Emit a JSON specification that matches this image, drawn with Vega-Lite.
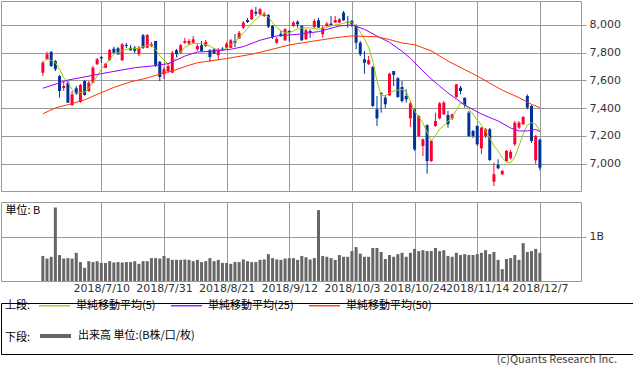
{
"$schema": "https://vega.github.io/schema/vega-lite/v6.json",
"padding": 0,
"background": "white",
"config": {
  "view": {"stroke": "#999999", "strokeWidth": 1},
  "axis": {"gridColor": "#999999", "gridWidth": 1, "gridOpacity": 1, "tickColor": "#999999", "domain": false, "labelFont": "DejaVu Sans", "labelFontSize": 11, "labelColor": "#333333", "title": null},
  "legend": {"padding": 0}
},
"datasets": {
"candles": [
{"i":0,"o":7656,"h":7740,"l":7632,"c":7728,"v":0.57},
{"i":1,"o":7753,"h":7807,"l":7748,"c":7789,"v":0.51},
{"i":2,"o":7805,"h":7813,"l":7697,"c":7704,"v":0.55},
{"i":3,"o":7740,"h":7748,"l":7668,"c":7681,"v":1.67},
{"i":4,"o":7632,"h":7640,"l":7476,"c":7524,"v":0.59},
{"i":5,"o":7546,"h":7596,"l":7524,"c":7560,"v":0.51},
{"i":6,"o":7584,"h":7596,"l":7438,"c":7440,"v":0.52},
{"i":7,"o":7423,"h":7524,"l":7416,"c":7500,"v":0.51},
{"i":8,"o":7544,"h":7560,"l":7495,"c":7505,"v":0.64},
{"i":9,"o":7445,"h":7575,"l":7438,"c":7567,"v":0.43},
{"i":10,"o":7596,"h":7603,"l":7490,"c":7495,"v":0.30},
{"i":11,"o":7524,"h":7596,"l":7517,"c":7584,"v":0.45},
{"i":12,"o":7584,"h":7704,"l":7582,"c":7692,"v":0.43},
{"i":13,"o":7717,"h":7762,"l":7712,"c":7753,"v":0.45},
{"i":14,"o":7769,"h":7776,"l":7726,"c":7760,"v":0.41},
{"i":15,"o":7692,"h":7726,"l":7688,"c":7721,"v":0.41},
{"i":16,"o":7748,"h":7827,"l":7740,"c":7820,"v":0.45},
{"i":17,"o":7829,"h":7844,"l":7798,"c":7800,"v":0.42},
{"i":18,"o":7832,"h":7840,"l":7784,"c":7789,"v":0.43},
{"i":19,"o":7746,"h":7870,"l":7740,"c":7861,"v":0.42},
{"i":20,"o":7856,"h":7870,"l":7834,"c":7849,"v":0.43},
{"i":21,"o":7836,"h":7856,"l":7813,"c":7818,"v":0.43},
{"i":22,"o":7836,"h":7849,"l":7798,"c":7813,"v":0.45},
{"i":23,"o":7789,"h":7849,"l":7776,"c":7836,"v":0.39},
{"i":24,"o":7926,"h":7935,"l":7827,"c":7836,"v":0.45},
{"i":25,"o":7836,"h":7935,"l":7832,"c":7928,"v":0.45},
{"i":26,"o":7849,"h":7877,"l":7840,"c":7861,"v":0.52},
{"i":27,"o":7885,"h":7885,"l":7697,"c":7712,"v":0.52},
{"i":28,"o":7735,"h":7740,"l":7596,"c":7625,"v":0.51},
{"i":29,"o":7645,"h":7697,"l":7611,"c":7681,"v":0.57},
{"i":30,"o":7668,"h":7726,"l":7655,"c":7704,"v":0.52},
{"i":31,"o":7656,"h":7813,"l":7652,"c":7800,"v":0.48},
{"i":32,"o":7818,"h":7827,"l":7769,"c":7789,"v":0.48},
{"i":33,"o":7800,"h":7863,"l":7790,"c":7854,"v":0.48},
{"i":34,"o":7872,"h":7907,"l":7863,"c":7885,"v":0.49},
{"i":35,"o":7865,"h":7899,"l":7856,"c":7885,"v":0.48},
{"i":36,"o":7872,"h":7921,"l":7863,"c":7897,"v":0.45},
{"i":37,"o":7825,"h":7863,"l":7813,"c":7849,"v":0.48},
{"i":38,"o":7854,"h":7885,"l":7805,"c":7813,"v":0.43},
{"i":39,"o":7849,"h":7892,"l":7840,"c":7877,"v":0.45},
{"i":40,"o":7818,"h":7827,"l":7733,"c":7769,"v":0.52},
{"i":41,"o":7825,"h":7834,"l":7789,"c":7793,"v":0.45},
{"i":42,"o":7782,"h":7834,"l":7748,"c":7825,"v":0.48},
{"i":43,"o":7829,"h":7840,"l":7813,"c":7818,"v":0.41},
{"i":44,"o":7836,"h":7877,"l":7834,"c":7865,"v":0.41},
{"i":45,"o":7836,"h":7899,"l":7834,"c":7890,"v":0.39},
{"i":46,"o":7885,"h":7935,"l":7840,"c":7872,"v":0.43},
{"i":47,"o":7901,"h":7957,"l":7899,"c":7944,"v":0.43},
{"i":48,"o":7981,"h":8029,"l":7971,"c":8017,"v":0.49},
{"i":49,"o":8036,"h":8050,"l":8015,"c":8022,"v":0.45},
{"i":50,"o":8041,"h":8115,"l":8036,"c":8108,"v":0.43},
{"i":51,"o":8094,"h":8130,"l":8065,"c":8082,"v":0.43},
{"i":52,"o":8077,"h":8123,"l":8072,"c":8113,"v":0.48},
{"i":53,"o":8065,"h":8094,"l":8058,"c":8082,"v":0.49},
{"i":54,"o":8072,"h":8079,"l":7978,"c":7988,"v":0.61},
{"i":55,"o":7993,"h":8000,"l":7899,"c":7913,"v":0.52},
{"i":56,"o":7872,"h":7913,"l":7863,"c":7901,"v":0.49},
{"i":57,"o":7937,"h":7957,"l":7913,"c":7921,"v":0.48},
{"i":58,"o":7890,"h":7978,"l":7885,"c":7969,"v":0.51},
{"i":59,"o":7957,"h":7962,"l":7880,"c":7944,"v":0.52},
{"i":60,"o":7993,"h":8029,"l":7986,"c":8017,"v":0.52},
{"i":61,"o":8024,"h":8034,"l":7981,"c":8005,"v":0.48},
{"i":62,"o":7993,"h":8000,"l":7885,"c":7890,"v":0.57},
{"i":63,"o":7897,"h":7971,"l":7892,"c":7962,"v":0.54},
{"i":64,"o":7957,"h":7969,"l":7908,"c":7944,"v":0.49},
{"i":65,"o":7986,"h":8043,"l":7978,"c":8029,"v":0.52},
{"i":66,"o":8034,"h":8053,"l":7978,"c":7981,"v":1.61},
{"i":67,"o":7933,"h":7993,"l":7908,"c":7981,"v":0.57},
{"i":68,"o":7993,"h":8022,"l":7986,"c":8010,"v":0.55},
{"i":69,"o":8010,"h":8065,"l":7993,"c":8000,"v":0.52},
{"i":70,"o":8017,"h":8065,"l":8015,"c":8036,"v":0.48},
{"i":71,"o":8017,"h":8050,"l":8015,"c":8041,"v":0.59},
{"i":72,"o":8089,"h":8101,"l":8029,"c":8034,"v":0.55},
{"i":73,"o":8024,"h":8065,"l":7981,"c":8017,"v":0.55},
{"i":74,"o":8029,"h":8036,"l":7986,"c":8005,"v":0.68},
{"i":75,"o":7993,"h":8005,"l":7825,"c":7872,"v":0.77},
{"i":76,"o":7872,"h":7885,"l":7776,"c":7789,"v":0.62},
{"i":77,"o":7753,"h":7813,"l":7649,"c":7728,"v":0.55},
{"i":78,"o":7717,"h":7776,"l":7712,"c":7746,"v":0.55},
{"i":79,"o":7697,"h":7704,"l":7409,"c":7416,"v":0.75},
{"i":80,"o":7392,"h":7488,"l":7272,"c":7327,"v":0.75},
{"i":81,"o":7512,"h":7512,"l":7368,"c":7500,"v":0.66},
{"i":82,"o":7476,"h":7495,"l":7400,"c":7428,"v":0.50},
{"i":83,"o":7493,"h":7656,"l":7488,"c":7649,"v":0.59},
{"i":84,"o":7668,"h":7668,"l":7560,"c":7640,"v":0.55},
{"i":85,"o":7616,"h":7625,"l":7474,"c":7481,"v":0.61},
{"i":86,"o":7553,"h":7596,"l":7440,"c":7452,"v":0.64},
{"i":87,"o":7488,"h":7536,"l":7440,"c":7464,"v":0.55},
{"i":88,"o":7327,"h":7452,"l":7265,"c":7435,"v":0.64},
{"i":89,"o":7392,"h":7400,"l":7092,"c":7104,"v":0.73},
{"i":90,"o":7200,"h":7351,"l":7193,"c":7344,"v":0.68},
{"i":91,"o":7128,"h":7180,"l":7055,"c":7176,"v":0.70},
{"i":92,"o":7277,"h":7284,"l":6928,"c":7019,"v":0.68},
{"i":93,"o":7019,"h":7171,"l":7012,"c":7164,"v":0.68},
{"i":94,"o":7272,"h":7368,"l":7265,"c":7308,"v":0.75},
{"i":95,"o":7327,"h":7445,"l":7320,"c":7435,"v":0.68},
{"i":96,"o":7356,"h":7452,"l":7351,"c":7440,"v":0.70},
{"i":97,"o":7351,"h":7380,"l":7260,"c":7284,"v":0.57},
{"i":98,"o":7327,"h":7360,"l":7315,"c":7356,"v":0.55},
{"i":99,"o":7481,"h":7575,"l":7474,"c":7572,"v":0.64},
{"i":100,"o":7548,"h":7560,"l":7500,"c":7524,"v":0.59},
{"i":101,"o":7476,"h":7476,"l":7404,"c":7423,"v":0.61},
{"i":102,"o":7368,"h":7380,"l":7193,"c":7200,"v":0.59},
{"i":103,"o":7236,"h":7243,"l":7185,"c":7200,"v":0.59},
{"i":104,"o":7272,"h":7279,"l":7128,"c":7140,"v":0.61},
{"i":105,"o":7111,"h":7265,"l":7068,"c":7260,"v":0.64},
{"i":106,"o":7200,"h":7257,"l":7185,"c":7248,"v":0.70},
{"i":107,"o":7248,"h":7257,"l":7019,"c":7027,"v":0.61},
{"i":108,"o":6870,"h":7007,"l":6839,"c":6924,"v":0.66},
{"i":109,"o":6991,"h":7032,"l":6960,"c":6967,"v":0.48},
{"i":110,"o":6924,"h":6955,"l":6917,"c":6947,"v":0.27},
{"i":111,"o":7019,"h":7099,"l":7012,"c":7092,"v":0.50},
{"i":112,"o":7040,"h":7099,"l":7030,"c":7085,"v":0.52},
{"i":113,"o":7140,"h":7308,"l":7128,"c":7296,"v":0.59},
{"i":114,"o":7260,"h":7308,"l":7250,"c":7296,"v":0.48},
{"i":115,"o":7284,"h":7344,"l":7279,"c":7337,"v":0.86},
{"i":116,"o":7488,"h":7500,"l":7392,"c":7404,"v":0.66},
{"i":117,"o":7416,"h":7423,"l":7150,"c":7164,"v":0.68},
{"i":118,"o":7024,"h":7207,"l":6996,"c":7200,"v":0.73},
{"i":119,"o":7173,"h":7180,"l":6952,"c":6971,"v":0.64}
],
"ma": [
{"i":0,"s":"単純移動平均(5)","p":7728},{"i":1,"s":"単純移動平均(5)","p":7757},{"i":2,"s":"単純移動平均(5)","p":7745},{"i":3,"s":"単純移動平均(5)","p":7728},{"i":4,"s":"単純移動平均(5)","p":7681},{"i":5,"s":"単純移動平均(5)","p":7620},{"i":6,"s":"単純移動平均(5)","p":7584},{"i":7,"s":"単純移動平均(5)","p":7536},{"i":8,"s":"単純移動平均(5)","p":7505},{"i":9,"s":"単純移動平均(5)","p":7512},
{"i":10,"s":"単純移動平均(5)","p":7517},{"i":11,"s":"単純移動平均(5)","p":7544},{"i":12,"s":"単純移動平均(5)","p":7584},{"i":13,"s":"単純移動平均(5)","p":7632},{"i":14,"s":"単純移動平均(5)","p":7681},{"i":15,"s":"単純移動平均(5)","p":7717},{"i":16,"s":"単純移動平均(5)","p":7753},{"i":17,"s":"単純移動平均(5)","p":7789},{"i":18,"s":"単純移動平均(5)","p":7800},{"i":19,"s":"単純移動平均(5)","p":7813},
{"i":20,"s":"単純移動平均(5)","p":7825},{"i":21,"s":"単純移動平均(5)","p":7829},{"i":22,"s":"単純移動平均(5)","p":7829},{"i":23,"s":"単純移動平均(5)","p":7832},{"i":24,"s":"単純移動平均(5)","p":7844},{"i":25,"s":"単純移動平均(5)","p":7854},{"i":26,"s":"単純移動平均(5)","p":7854},{"i":27,"s":"単純移動平均(5)","p":7825},{"i":28,"s":"単純移動平均(5)","p":7776},{"i":29,"s":"単純移動平均(5)","p":7748},
{"i":30,"s":"単純移動平均(5)","p":7719},{"i":31,"s":"単純移動平均(5)","p":7733},{"i":32,"s":"単純移動平均(5)","p":7764},{"i":33,"s":"単純移動平均(5)","p":7805},{"i":34,"s":"単純移動平均(5)","p":7838},{"i":35,"s":"単純移動平均(5)","p":7856},{"i":36,"s":"単純移動平均(5)","p":7865},{"i":37,"s":"単純移動平均(5)","p":7867},{"i":38,"s":"単純移動平均(5)","p":7865},{"i":39,"s":"単純移動平均(5)","p":7859},
{"i":40,"s":"単純移動平均(5)","p":7849},{"i":41,"s":"単純移動平均(5)","p":7829},{"i":42,"s":"単純移動平均(5)","p":7823},{"i":43,"s":"単純移動平均(5)","p":7820},{"i":44,"s":"単純移動平均(5)","p":7831},{"i":45,"s":"単純移動平均(5)","p":7856},{"i":46,"s":"単純移動平均(5)","p":7881},{"i":47,"s":"単純移動平均(5)","p":7906},{"i":48,"s":"単純移動平均(5)","p":7942},{"i":49,"s":"単純移動平均(5)","p":7975},
{"i":50,"s":"単純移動平均(5)","p":8011},{"i":51,"s":"単純移動平均(5)","p":8040},{"i":52,"s":"単純移動平均(5)","p":8068},{"i":53,"s":"単純移動平均(5)","p":8079},{"i":54,"s":"単純移動平均(5)","p":8058},{"i":55,"s":"単純移動平均(5)","p":8018},{"i":56,"s":"単純移動平均(5)","p":7982},{"i":57,"s":"単純移動平均(5)","p":7960},{"i":58,"s":"単純移動平均(5)","p":7944},{"i":59,"s":"単純移動平均(5)","p":7944},
{"i":60,"s":"単純移動平均(5)","p":7957},{"i":61,"s":"単純移動平均(5)","p":7971},{"i":62,"s":"単純移動平均(5)","p":7978},{"i":63,"s":"単純移動平均(5)","p":7978},{"i":64,"s":"単純移動平均(5)","p":7980},{"i":65,"s":"単純移動平均(5)","p":7975},{"i":66,"s":"単純移動平均(5)","p":7969},{"i":67,"s":"単純移動平均(5)","p":7978},{"i":68,"s":"単純移動平均(5)","p":7985},{"i":69,"s":"単純移動平均(5)","p":7993},
{"i":70,"s":"単純移動平均(5)","p":8000},{"i":71,"s":"単純移動平均(5)","p":8005},{"i":72,"s":"単純移動平均(5)","p":8012},{"i":73,"s":"単純移動平均(5)","p":8022},{"i":74,"s":"単純移動平均(5)","p":8018},{"i":75,"s":"単純移動平均(5)","p":7993},{"i":76,"s":"単純移動平均(5)","p":7949},{"i":77,"s":"単純移動平均(5)","p":7899},{"i":78,"s":"単純移動平均(5)","p":7841},{"i":79,"s":"単純移動平均(5)","p":7740},
{"i":80,"s":"単純移動平均(5)","p":7596},{"i":81,"s":"単純移動平均(5)","p":7495},{"i":82,"s":"単純移動平均(5)","p":7488},{"i":83,"s":"単純移動平均(5)","p":7512},{"i":84,"s":"単純移動平均(5)","p":7524},{"i":85,"s":"単純移動平均(5)","p":7531},{"i":86,"s":"単純移動平均(5)","p":7535},{"i":87,"s":"単純移動平均(5)","p":7520},{"i":88,"s":"単純移動平均(5)","p":7452},{"i":89,"s":"単純移動平均(5)","p":7380},
{"i":90,"s":"単純移動平均(5)","p":7337},{"i":91,"s":"単純移動平均(5)","p":7293},{"i":92,"s":"単純移動平均(5)","p":7228},{"i":93,"s":"単純移動平均(5)","p":7164},{"i":94,"s":"単純移動平均(5)","p":7200},{"i":95,"s":"単純移動平均(5)","p":7250},{"i":96,"s":"単純移動平均(5)","p":7272},{"i":97,"s":"単純移動平均(5)","p":7308},{"i":98,"s":"単純移動平均(5)","p":7332},{"i":99,"s":"単純移動平均(5)","p":7387},
{"i":100,"s":"単純移動平均(5)","p":7438},{"i":101,"s":"単純移動平均(5)","p":7427},{"i":102,"s":"単純移動平均(5)","p":7394},{"i":103,"s":"単純移動平均(5)","p":7358},{"i":104,"s":"単純移動平均(5)","p":7315},{"i":105,"s":"単純移動平均(5)","p":7279},{"i":106,"s":"単純移動平均(5)","p":7236},{"i":107,"s":"単純移動平均(5)","p":7185},{"i":108,"s":"単純移動平均(5)","p":7128},{"i":109,"s":"単純移動平均(5)","p":7092},
{"i":110,"s":"単純移動平均(5)","p":7041},{"i":111,"s":"単純移動平均(5)","p":7012},{"i":112,"s":"単純移動平均(5)","p":7007},{"i":113,"s":"単純移動平均(5)","p":7048},{"i":114,"s":"単純移動平均(5)","p":7128},{"i":115,"s":"単純移動平均(5)","p":7214},{"i":116,"s":"単純移動平均(5)","p":7279},{"i":117,"s":"単純移動平均(5)","p":7296},{"i":118,"s":"単純移動平均(5)","p":7284},{"i":119,"s":"単純移動平均(5)","p":7236},
{"i":0,"s":"単純移動平均(25)","p":7544},{"i":6,"s":"単純移動平均(25)","p":7603},{"i":14,"s":"単純移動平均(25)","p":7649},{"i":22,"s":"単純移動平均(25)","p":7692},{"i":26,"s":"単純移動平均(25)","p":7704},{"i":30,"s":"単純移動平均(25)","p":7721},{"i":34,"s":"単純移動平均(25)","p":7776},{"i":37,"s":"単純移動平均(25)","p":7805},{"i":40,"s":"単純移動平均(25)","p":7810},{"i":45,"s":"単純移動平均(25)","p":7825},{"i":48,"s":"単純移動平均(25)","p":7844},{"i":52,"s":"単純移動平均(25)","p":7890},{"i":56,"s":"単純移動平均(25)","p":7921},{"i":61,"s":"単純移動平均(25)","p":7933},{"i":66,"s":"単純移動平均(25)","p":7952},{"i":71,"s":"単純移動平均(25)","p":7993},{"i":74,"s":"単純移動平均(25)","p":8000},{"i":77,"s":"単純移動平均(25)","p":7969},{"i":80,"s":"単純移動平均(25)","p":7920},{"i":83,"s":"単純移動平均(25)","p":7875},{"i":86,"s":"単純移動平均(25)","p":7810},{"i":88,"s":"単純移動平均(25)","p":7760},{"i":91,"s":"単純移動平均(25)","p":7668},{"i":93,"s":"単純移動平均(25)","p":7611},{"i":97,"s":"単純移動平均(25)","p":7510},{"i":101,"s":"単純移動平均(25)","p":7423},{"i":105,"s":"単純移動平均(25)","p":7358},{"i":109,"s":"単純移動平均(25)","p":7308},{"i":112,"s":"単純移動平均(25)","p":7257},{"i":114,"s":"単純移動平均(25)","p":7236},{"i":116,"s":"単純移動平均(25)","p":7236},{"i":118,"s":"単純移動平均(25)","p":7247},{"i":119,"s":"単純移動平均(25)","p":7231},
{"i":0,"s":"単純移動平均(50)","p":7360},{"i":3,"s":"単純移動平均(50)","p":7402},{"i":6,"s":"単純移動平均(50)","p":7425},{"i":10,"s":"単純移動平均(50)","p":7460},{"i":13,"s":"単純移動平均(50)","p":7500},{"i":17,"s":"単純移動平均(50)","p":7550},{"i":21,"s":"単純移動平均(50)","p":7590},{"i":25,"s":"単純移動平均(50)","p":7618},{"i":29,"s":"単純移動平均(50)","p":7656},{"i":31,"s":"単純移動平均(50)","p":7668},{"i":34,"s":"単純移動平均(50)","p":7700},{"i":37,"s":"単純移動平均(50)","p":7728},{"i":44,"s":"単純移動平均(50)","p":7758},{"i":50,"s":"単純移動平均(50)","p":7789},{"i":54,"s":"単純移動平均(50)","p":7818},{"i":59,"s":"単純移動平均(50)","p":7856},{"i":64,"s":"単純移動平均(50)","p":7880},{"i":70,"s":"単純移動平均(50)","p":7908},{"i":74,"s":"単純移動平均(50)","p":7921},{"i":80,"s":"単純移動平均(50)","p":7915},{"i":83,"s":"単純移動平均(50)","p":7895},{"i":86,"s":"単純移動平均(50)","p":7870},{"i":89,"s":"単純移動平均(50)","p":7858},{"i":93,"s":"単純移動平均(50)","p":7813},{"i":97,"s":"単純移動平均(50)","p":7740},{"i":104,"s":"単純移動平均(50)","p":7632},{"i":110,"s":"単純移動平均(50)","p":7530},{"i":114,"s":"単純移動平均(50)","p":7476},{"i":117,"s":"単純移動平均(50)","p":7428},{"i":119,"s":"単純移動平均(50)","p":7404}
]
},
"spacing": -6,
"resolve": {"scale": {"color": "independent"}, "legend": {"color": "independent"}},
"vconcat": [
{
  "bounds": "flush",
  "spacing": 11,
  "resolve": {"scale": {"color": "independent"}, "legend": {"color": "independent"}},
  "vconcat": [
  {
    "width": 580,
    "height": 190,
    "encoding": {
      "x": {"field": "i", "type": "quantitative", "scale": {"domain": [-8.82, 127.65], "nice": false, "zero": false},
            "axis": {"values": [14, 29, 44, 59, 74, 89, 104, 119], "labels": false, "ticks": false, "grid": true, "title": null}}
    },
    "layer": [
      {
        "data": {"name": "candles"},
        "mark": {"type": "rule", "strokeWidth": 1},
        "encoding": {
          "y": {"field": "l", "type": "quantitative", "scale": {"domain": [6803, 8173], "nice": false, "zero": false},
                "axis": {"orient": "right", "values": [7000, 7200, 7400, 7600, 7800, 8000], "format": ",.0f", "grid": true, "tickSize": 5, "labelPadding": 3, "labelOverlap": false, "title": null}},
          "y2": {"field": "h"},
          "color": {"condition": {"test": "datum.c >= datum.o", "value": "#ff0033"}, "value": "#003399"}
        }
      },
      {
        "data": {"name": "candles"},
        "mark": {"type": "bar", "size": 3},
        "encoding": {
          "y": {"field": "o", "type": "quantitative", "scale": {"domain": [6803, 8173], "nice": false, "zero": false},
                "axis": {"orient": "right", "values": [7000, 7200, 7400, 7600, 7800, 8000], "format": ",.0f", "grid": true, "tickSize": 5, "labelPadding": 3, "labelOverlap": false, "title": null}},
          "y2": {"field": "c"},
          "color": {"condition": {"test": "datum.c >= datum.o", "value": "#ff0033"}, "value": "#003399"}
        }
      },
      {
        "data": {"name": "ma"},
        "mark": {"type": "line", "strokeWidth": 1, "clip": true},
        "encoding": {
          "y": {"field": "p", "type": "quantitative", "scale": {"domain": [6803, 8173], "nice": false, "zero": false},
                "axis": {"orient": "right", "values": [7000, 7200, 7400, 7600, 7800, 8000], "format": ",.0f", "grid": true, "tickSize": 5, "labelPadding": 3, "labelOverlap": false, "title": null}},
          "color": {"field": "s", "type": "nominal",
            "scale": {"domain": ["単純移動平均(5)", "単純移動平均(25)", "単純移動平均(50)"], "range": ["#99cc00", "#9900ff", "#ff3300"]},
            "legend": null}
        }
      }
    ]
  },
  {
    "width": 580,
    "height": 79,
    "data": {"name": "candles"},
    "mark": {"type": "bar", "size": 3, "color": "#666666"},
    "encoding": {
      "x": {"field": "i", "type": "quantitative", "scale": {"domain": [-8.82, 127.65], "nice": false, "zero": false},
            "axis": {"values": [14, 29, 44, 59, 74, 89, 104, 119], "ticks": false, "grid": true, "labelPadding": 1, "labelOverlap": false, "labelBound": false, "labelFlush": false,
                     "labelExpr": "['2018/7/10','2018/7/31','2018/8/21','2018/9/12','2018/10/3','2018/10/24','2018/11/14','2018/12/7'][round((datum.value-14)/15)]", "title": null}},
      "y": {"field": "v", "type": "quantitative", "scale": {"domain": [0, 1.795], "nice": false, "zero": true},
            "axis": {"orient": "right", "values": [1], "labelExpr": "'1B'", "grid": true, "tickSize": 5, "labelPadding": 3,
                     "title": "単位: B", "titleAngle": 0, "titleX": -576, "titleY": 2, "titleAlign": "left", "titleBaseline": "top",
                     "titleFont": "Noto Sans CJK JP", "titleFontSize": 11, "titleFontWeight": "normal", "titleColor": "#000000"}}
    }
  }
  ]
},
{
  "width": 632,
  "height": 51,
  "view": {"stroke": "#000000", "strokeWidth": 1},
  "resolve": {"scale": {"color": "independent"}, "legend": {"color": "independent"}},
  "title": {"text": "(c)Quants Research Inc.", "orient": "bottom", "anchor": "end", "offset": 0, "dx": -16, "font": "Noto Sans CJK JP", "fontSize": 11, "fontWeight": "normal", "color": "#444444"},
  "layer": [
    {
      "data": {"name": "ma"},
      "transform": [{"filter": "false"}],
      "mark": {"type": "line", "strokeWidth": 1},
      "encoding": {
        "color": {"field": "s", "type": "nominal",
          "scale": {"domain": ["単純移動平均(5)", "単純移動平均(25)", "単純移動平均(50)"], "range": ["#99cc00", "#9900ff", "#ff3300"]},
          "legend": {"title": "上段:", "orient": "none", "legendX": 4, "legendY": -14, "direction": "horizontal",
            "titleOrient": "left", "titleAnchor": "middle", "titlePadding": 7, "titleFont": "Noto Sans CJK JP", "titleFontSize": 11, "titleFontWeight": "normal", "titleColor": "#000000", "titleBaseline": "top",
            "symbolType": "stroke", "symbolSize": 961, "symbolStrokeWidth": 1.3, "symbolOpacity": 1,
            "labelFont": "Noto Sans CJK JP", "labelFontSize": 11, "labelColor": "#000000", "labelOffset": 5, "columnPadding": 12, "padding": 0}}
      }
    },
    {
      "data": {"name": "candles"},
      "transform": [{"filter": "false"}],
      "mark": {"type": "bar"},
      "encoding": {
        "color": {"datum": "出来高 単位:(B株/口/枚)", "type": "nominal", "scale": {"range": ["#666666"]},
          "legend": {"title": "下段:", "orient": "none", "legendX": 4, "legendY": 15.5, "direction": "horizontal",
            "titleOrient": "left", "titleAnchor": "middle", "titlePadding": 7, "titleFont": "Noto Sans CJK JP", "titleFontSize": 11, "titleFontWeight": "normal", "titleColor": "#000000", "titleBaseline": "top",
            "symbolType": "stroke", "symbolSize": 961, "symbolStrokeWidth": 4, "symbolStrokeColor": "#666666", "symbolOpacity": 1,
            "labelFont": "Noto Sans CJK JP", "labelFontSize": 11, "labelColor": "#000000", "labelOffset": 5, "padding": 0}}
      }
    }
  ]
}
]
}
